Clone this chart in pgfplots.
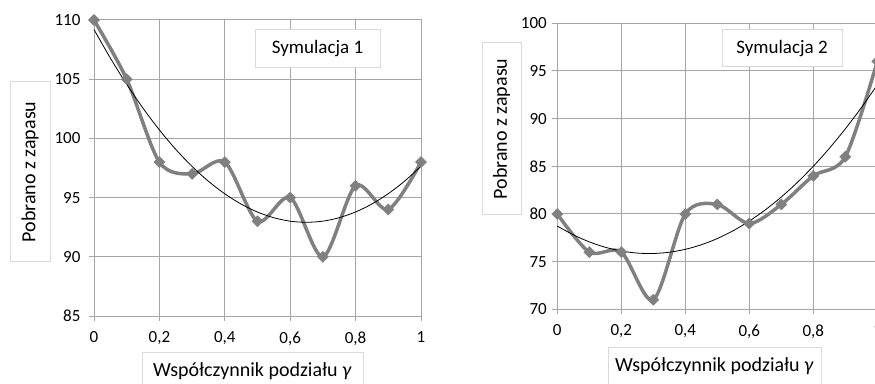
\documentclass[border=0pt]{standalone}
\usepackage{fontspec}
\setmainfont{Carlito}
\usepackage{pgfplots}
\pgfplotsset{compat=1.18}
\definecolor{gridgray}{RGB}{166,166,166}
\definecolor{sergray}{RGB}{128,128,128}
\definecolor{boxgray}{RGB}{217,217,217}
\pgfplotsset{
  myaxis/.style={
    scale only axis,
    anchor=south west,
    xmin=0, xmax=1,
    axis line style={gridgray, line width=1pt},
    grid=major,
    major grid style={gridgray, line width=1pt},
    tick style={gridgray, line width=1pt},
    tick align=outside,
    major tick length=5pt,
    xtick pos=bottom, ytick pos=left,
    xtick={0,0.2,0.4,0.6,0.8,1},
    xticklabels={0,{0,2},{0,4},{0,6},{0,8},1},
    tick label style={font=\fontsize{17}{19}\selectfont},
    xticklabel style={yshift=-7pt},
    /pgf/number format/assume math mode=true,
    clip=false,
  },
  series/.style={sergray, line width=3.5pt, smooth, tension=0.5,
    mark=square*, mark size=3.9pt, mark options={rotate=45, solid, line width=0.5pt, fill=sergray, draw=sergray}},
  trend/.style={black, line width=0.8pt, smooth, no marks},
}
\begin{document}
\begin{tikzpicture}[x=1pt,y=1pt]
\useasboundingbox (0,0) rectangle (875,383);
\clip (0,0) rectangle (875,383);
% Chart 1
\begin{axis}[myaxis, at={(94pt,67pt)}, width=327pt, height=296pt,
  ymin=85, ymax=110, ytick={85,90,95,100,105,110},
  yticklabel style={xshift=-5pt}]
\addplot[series] coordinates {(0,110) (0.1,105) (0.2,98) (0.3,97) (0.4,98) (0.5,93) (0.6,95) (0.7,90) (0.8,96) (0.9,94) (1,98)};
\addplot[trend] coordinates {(0,109.195) (0.05,106.785) (0.1,104.569) (0.15,102.545) (0.2,100.714) (0.25,99.075) (0.3,97.630) (0.35,96.378) (0.4,95.318) (0.45,94.452) (0.5,93.778) (0.55,93.297) (0.6,93.009) (0.65,92.914) (0.7,93.012) (0.75,93.303) (0.8,93.787) (0.85,94.463) (0.9,95.333) (0.95,96.395) (1,97.650)};
\end{axis}
% Chart 2
\begin{axis}[myaxis, at={(557.3pt,73.7pt)}, width=320pt, height=286pt,
  ymin=70, ymax=100, ytick={70,75,80,85,90,95,100},
  yticklabel style={xshift=-2pt}]
\addplot[series] coordinates {(0,80) (0.1,76) (0.2,76) (0.3,71) (0.4,80) (0.5,81) (0.6,79) (0.7,81) (0.8,84) (0.9,86) (1,96)};
\addplot[trend] coordinates {(0,78.727) (0.05,77.813) (0.1,77.073) (0.15,76.507) (0.2,76.115) (0.25,75.897) (0.3,75.854) (0.35,75.985) (0.4,76.290) (0.45,76.770) (0.5,77.424) (0.55,78.252) (0.6,79.254) (0.65,80.431) (0.7,81.782) (0.75,83.307) (0.8,85.005) (0.85,86.879) (0.9,88.927) (0.95,91.149) (1,93.545)};
\end{axis}
% label boxes
\tikzset{lbl/.style={font=\fontsize{20}{22}\selectfont, inner sep=0pt},
         sim/.style={font=\fontsize{19}{21}\selectfont, inner sep=0pt}}
\draw[boxgray, fill=white, line width=1pt] (10,121) rectangle (50,301);
\node[lbl, rotate=90] at (30,211) {Pobrano z zapasu};
\draw[boxgray, fill=white, line width=1pt] (142,-5) rectangle (363,31);
\node[lbl] at (252.5,12) {Współczynnik podziału \textit{γ}};
\draw[boxgray, fill=white, line width=1pt] (255,315) rectangle (380,353);
\node[sim] at (317.5,334) {Symulacja 1};
\draw[boxgray, fill=white, line width=1pt] (482,168) rectangle (521,340);
\node[lbl, rotate=90] at (501.5,254) {Pobrano z zapasu};
\draw[boxgray, fill=white, line width=1pt] (608,-5) rectangle (821,36);
\node[lbl] at (714.5,17) {Współczynnik podziału \textit{γ}};
\draw[boxgray, fill=white, line width=1pt] (722,316) rectangle (842,353);
\node[sim] at (782,334.5) {Symulacja 2};
\end{tikzpicture}
\end{document}
